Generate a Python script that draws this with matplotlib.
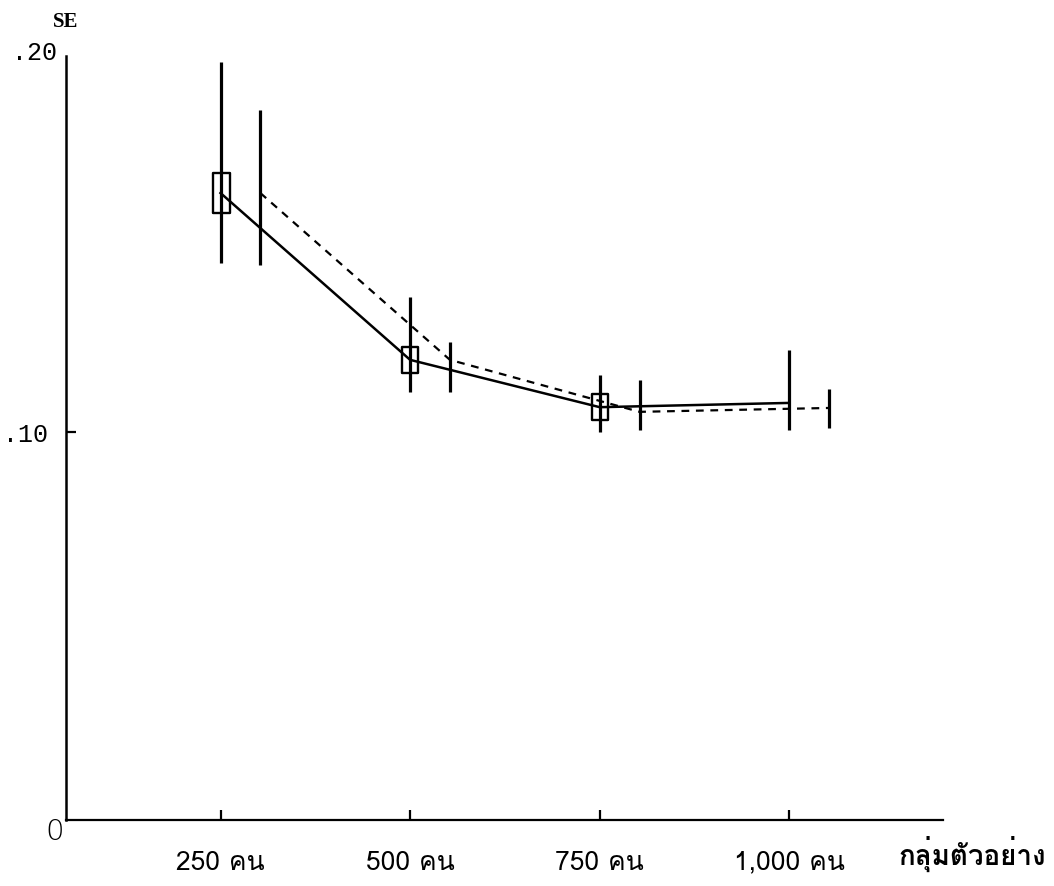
import matplotlib
matplotlib.use("Agg")
import matplotlib.pyplot as plt
from matplotlib import font_manager
from matplotlib.ft2font import FT2Font
from matplotlib.path import Path

plt.rcParams["xtick.direction"] = "in"
plt.rcParams["ytick.direction"] = "in"

# หา font ที่มีอักษรไทย ถ้าไม่มีก็ใช้ DejaVu Sans
def find_thai_font():
    for f in font_manager.fontManager.ttflist:
        try:
            if ord("ค") in FT2Font(f.fname).get_charmap():
                return f.name
        except Exception:
            continue
    return None

thai = find_thai_font()
families = [thai, "DejaVu Sans"] if thai else ["DejaVu Sans"]

# ข้อมูล
groups = ["250 คน", "500 คน", "750 คน", "1,000 คน"]
se_solid = [0.1616, 0.1186, 0.1064, 0.1075]
lo_solid = [0.1436, 0.1103, 0.1000, 0.1005]
hi_solid = [0.1954, 0.1348, 0.1147, 0.1211]
se_dash = [0.1616, 0.1186, 0.1052, 0.1062]
lo_dash = [0.1430, 0.1103, 0.1005, 0.1010]
hi_dash = [0.1830, 0.1232, 0.1134, 0.1111]

x = list(range(1, len(groups) + 1))
x_dash = [v + 0.21 for v in x]

fig = plt.figure(figsize=(10.54, 8.86), dpi=100)
ax = fig.add_axes([0.0626, 0.0745, 0.832, 0.8758])
ax.set_xlim(0.185, 4.81)
ax.set_ylim(0, 0.2)

# เส้นทึบ + error bar
ax.plot(x, se_solid, color="black", lw=1.8, zorder=3)
ax.errorbar(x, se_solid, yerr=[[s - l for s, l in zip(se_solid, lo_solid)],
                               [h - s for s, h in zip(se_solid, hi_solid)]],
            fmt="none", ecolor="black", elinewidth=2.3, capsize=0, zorder=3)

# เส้นประ + error bar
ax.plot(x_dash, se_dash, color="black", lw=1.6, dashes=(3.5, 3), zorder=3)
ax.errorbar(x_dash, se_dash, yerr=[[s - l for s, l in zip(se_dash, lo_dash)],
                                   [h - s for s, h in zip(se_dash, hi_dash)]],
            fmt="none", ecolor="black", elinewidth=2.3, capsize=0, zorder=3)

# กรอบสี่เหลี่ยมบนจุดของเส้นทึบ (3 จุดแรก)
box_aspect = [0.425, 0.6, 0.63]
box_size = [28.8, 19.4, 19.4]
for i in range(3):
    w = box_aspect[i]
    rect = Path([(-w, -1), (w, -1), (w, 1), (-w, 1), (-w, -1)],
                [Path.MOVETO, Path.LINETO, Path.LINETO, Path.LINETO, Path.CLOSEPOLY])
    ax.plot([x[i]], [se_solid[i]], marker=rect, markersize=box_size[i],
            markerfacecolor="none", markeredgecolor="black", markeredgewidth=1.7,
            linestyle="none", zorder=4)

# แกน
for side in ("top", "right"):
    ax.spines[side].set_visible(False)
ax.spines["left"].set_bounds(0, 0.197)
ax.spines["left"].set_linewidth(1.8)
ax.spines["bottom"].set_linewidth(1.6)

ax.set_xticks(x)
ax.set_xticklabels(groups, family=families, fontsize=19)
ax.tick_params(axis="x", which="major", direction="in", length=7, width=1.6, pad=22)

ax.set_yticks([0.1])
ax.set_yticklabels([".10"], family="Liberation Mono", fontsize=18)
ax.tick_params(axis="y", which="major", direction="in", length=7, width=1.6, pad=13)

ax.text(35 / 1054, 1 - 53 / 886, ".20", transform=fig.transFigure,
        family="Liberation Mono", fontsize=18, ha="center", va="center")
ax.text(66 / 1054, 1 - 22 / 886, "SE", transform=fig.transFigure,
        family="Liberation Serif", fontweight="bold", fontsize=15,
        ha="center", va="center")
ax.text(55 / 1054, 1 - 832 / 886, "0", transform=fig.transFigure,
        family="DejaVu Sans", fontsize=21, ha="center", va="center",
        fontweight="light")
ax.text(972 / 1054, 1 - 854 / 886, "กลุ่มตัวอย่าง", transform=fig.transFigure,
        family=families, fontsize=20, fontweight="bold", ha="center", va="center")

fig.savefig("out.png", dpi=100)
